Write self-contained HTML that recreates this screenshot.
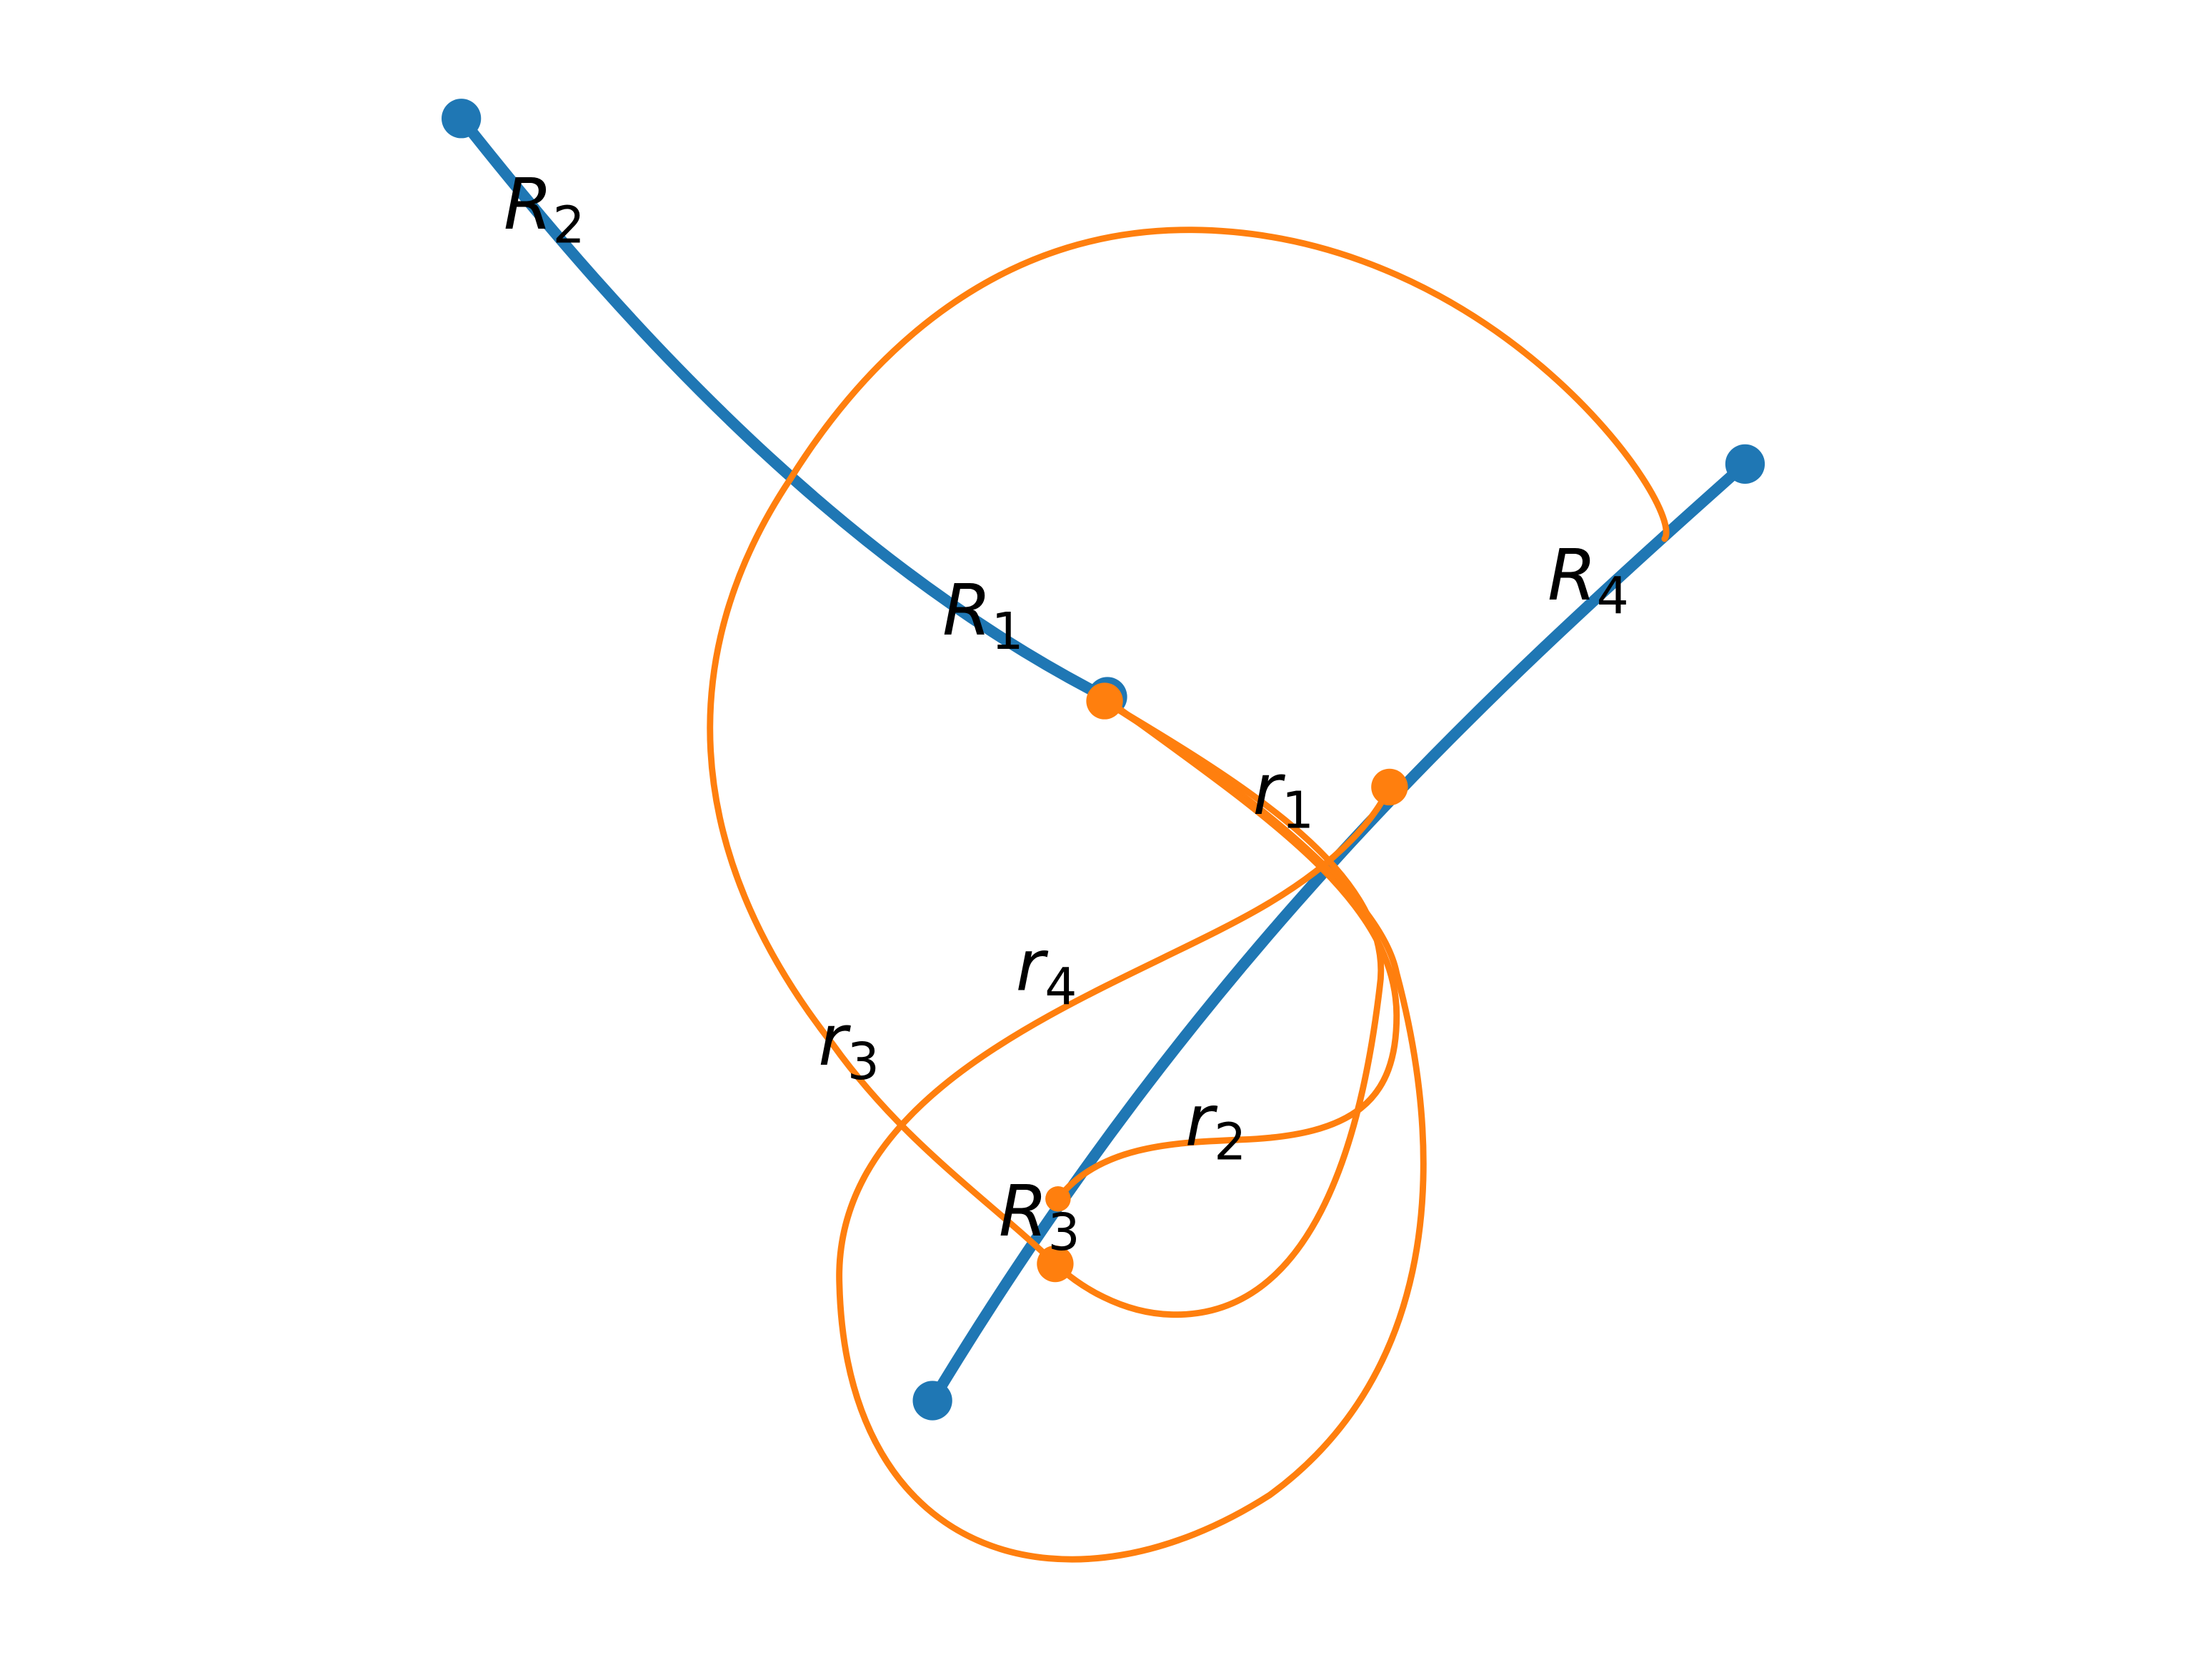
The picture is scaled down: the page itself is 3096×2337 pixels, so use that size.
<!DOCTYPE html>
<html><head><meta charset="utf-8"><style>
html,body{margin:0;padding:0;background:#fff;}
svg{display:block;}
text{font-family:"DejaVu Sans","Liberation Sans",sans-serif;font-style:italic;fill:#000;}
</style></head><body>
<svg id="chart" width="3096" height="2337" viewBox="0 0 1568 1184" preserveAspectRatio="none" xmlns="http://www.w3.org/2000/svg">
<g id="blue"></g>
<g id="orange"></g>
<g id="dots"></g>
<g id="labels"></g>
</svg>
<script>
const blueCurveNames = ['R2','R4'];
const blueCurvePoints = [
  [[327,84],[450,240],[600,400],[783,494]],
  [[1237,329],[1050,495],[850,680],[661,993]]
];
const orangeCurveNames = ['r3','r1','r4','r2'];
const orangeCurvePoints = [
  [[1180,382],[1195,360],[1060,165],[845,163],[700,162],[610,260],[560,340],[480,460],[480,600],[590,740],[640,810],[700,850],[748,896]],
  [[783,497],[880,555],[990,620],[978,700],[965,810],[930,935],[830,932],[795,931],[765,912],[748,896]],
  [[783,497],[900,570],[980,640],[990,690],[1030,840],[1010,980],[900,1060],[760,1150],[600,1110],[595,910],[590,760],[800,700],[900,640],[950,610],[975,580],[985,558]],
  [[750,850],[780,810],[840,810],[880,808],[960,805],[990,780],[990,720],[990,640],[900,580],[790,500]]
];
const blueDots = [[327,84],[785,494],[1237,329],[661,993]];
const orangeDots = [[750,850],[783,497],[985,558],[748,896]];
const orangeDotR = [9,13,13,13];
const labelMain = ['R','R','R','R','r','r','r','r'];
const labelSub = ['2','1','4','3','1','4','3','2'];
const labelPos = [[357,162],[668,450],[1097,425],[708,876],[888,577],[720,702],[580,755],[840,812]];

const NS='http://www.w3.org/2000/svg';
function pathD(p){let d='M'+p[0][0]+','+p[0][1];for(let i=1;i<p.length;i+=3){d+=' C'+p[i].join(',')+' '+p[i+1].join(',')+' '+p[i+2].join(',');}return d;}
const gb=document.getElementById('blue'),go=document.getElementById('orange'),gd=document.getElementById('dots'),gl=document.getElementById('labels');
blueCurvePoints.forEach((p,i)=>{const e=document.createElementNS(NS,'path');e.setAttribute('d',pathD(p));e.setAttribute('fill','none');e.setAttribute('stroke','#1f77b4');e.setAttribute('stroke-width','8');e.setAttribute('stroke-linecap','round');


gb.appendChild(e);});
blueDots.forEach((p,i)=>{const c=document.createElementNS(NS,'circle');c.setAttribute('cx',p[0]);c.setAttribute('cy',p[1]);c.setAttribute('r','14');c.setAttribute('fill','#1f77b4');


gb.appendChild(c);});
orangeCurvePoints.forEach((p,i)=>{const e=document.createElementNS(NS,'path');e.setAttribute('d',pathD(p));e.setAttribute('fill','none');e.setAttribute('stroke','#ff7f0e');e.setAttribute('stroke-width','4.5');e.setAttribute('stroke-linecap','round');


go.appendChild(e);});
orangeDots.forEach((p,i)=>{const c=document.createElementNS(NS,'circle');c.setAttribute('cx',p[0]);c.setAttribute('cy',p[1]);c.setAttribute('r',orangeDotR[i]);c.setAttribute('fill','#ff7f0e');


gd.appendChild(c);});
labelMain.forEach((m,i)=>{const t=document.createElementNS(NS,'text');t.setAttribute('x',labelPos[i][0]);t.setAttribute('y',labelPos[i][1]);t.setAttribute('font-size','50');


t.appendChild(document.createTextNode(m));const s=document.createElementNS(NS,'tspan');s.setAttribute('dy','10');s.setAttribute('font-size','36');s.setAttribute('font-style','normal');s.textContent=labelSub[i];t.appendChild(s);gl.appendChild(t);});
</script>
</body></html>
